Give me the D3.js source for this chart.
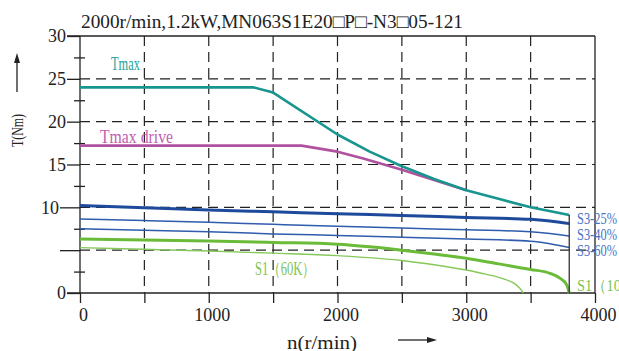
<!DOCTYPE html>
<html>
<head>
<meta charset="utf-8">
<script src="https://cdn.jsdelivr.net/npm/d3@7"></script>
<style>
  body { margin: 0; background: #fff; }
  svg { display: block; }
</style>
</head>
<body>
<div id="chart"></div>
<script>
// chart values
var titleText = "2000r/min,1.2kW,MN063S1E20□P□-N3□05-121";
var speedTicks = [0, 500, 1000, 1500, 2000, 2500, 3000, 3500, 4000];
var speedLabels = [0, 1000, 2000, 3000, 4000];
var torqueTicks = [0, 2.5, 5, 7.5, 10, 12.5, 15, 17.5, 20, 22.5, 25, 27.5, 30];
var torqueLabels = [0, 10, 15, 20, 25, 30];
var torqueGrid = [5, 10, 15, 20, 25];

var tmaxSpeed  = [0, 1350, 1500, 2000, 2250, 2500, 2750, 3000, 3250, 3500, 3800];
var tmaxTorque = [24, 24, 23.4, 18.5, 16.5, 14.8, 13.3, 12.0, 11.0, 10.0, 9.1];

var driveSpeed  = [0, 1720, 2000, 2200, 2500, 2750, 3000];
var driveTorque = [17.2, 17.2, 16.5, 15.7, 14.4, 13.2, 12.0];

var s325Speed  = [0, 500, 1000, 1500, 2000, 2500, 3000, 3500, 3650, 3800];
var s325Torque = [10.2, 9.96, 9.7, 9.48, 9.25, 9.05, 8.82, 8.6, 8.4, 8.1];

var s340Speed  = [0, 500, 1000, 1500, 2000, 2500, 3000, 3500, 3650, 3800];
var s340Torque = [8.65, 8.45, 8.25, 8.02, 7.8, 7.58, 7.37, 7.15, 6.95, 6.65];

var s360Speed  = [0, 500, 1000, 1500, 2000, 2500, 3000, 3500, 3650, 3800];
var s360Torque = [7.5, 7.33, 7.15, 6.9, 6.72, 6.52, 6.3, 6.05, 5.75, 5.3];

var s1hSpeed  = [0, 500, 1000, 1500, 2000, 2250, 2500, 2750, 3000, 3250, 3500, 3650, 3730, 3780, 3800];
var s1hTorque = [6.3, 6.2, 6.07, 5.9, 5.7, 5.4, 5.0, 4.55, 4.05, 3.4, 2.75, 2.3, 1.7, 0.95, 0];

var s1sSpeed  = [0, 500, 1000, 1500, 2000, 2500, 2750, 3000, 3150, 3300, 3370, 3410, 3435, 3442];
var s1sTorque = [5.3, 5.1, 4.9, 4.65, 4.36, 3.8, 3.3, 2.68, 2.2, 1.6, 1.15, 0.65, 0.2, 0];

var rightLabels = ["S3-25%", "S3-40%", "S3-60%", "S1（100K）"];

// styles per curve
var series = [
    {speed: s1sSpeed,  torque: s1sTorque,  color: "#86c85a", width: 1.4, curve: d3.curveMonotoneX},
    {speed: s1hSpeed,  torque: s1hTorque,  color: "#6abb38", width: 3,   curve: d3.curveMonotoneX},
    {speed: s360Speed, torque: s360Torque, color: "#2f5cad", width: 1.5, curve: d3.curveMonotoneX},
    {speed: s340Speed, torque: s340Torque, color: "#2f5cad", width: 1.5, curve: d3.curveMonotoneX},
    {speed: s325Speed, torque: s325Torque, color: "#1e4a9b", width: 3,   curve: d3.curveMonotoneX},
    {speed: driveSpeed, torque: driveTorque, color: "#b0519f", width: 2.6, curve: d3.curveLinear},
    {speed: tmaxSpeed,  torque: tmaxTorque,  color: "#18958f", width: 2.6, curve: d3.curveLinear}
];

var W = 619, H = 351;
var ink = "#222";

var svg = d3.select("#chart").append("svg")
    .attr("width", W)
    .attr("height", H)
    .style("font-family", "'Liberation Serif', 'DejaVu Serif', serif");

var x = d3.scaleLinear().domain([0, 4000]).range([80, 595]);
var y = d3.scaleLinear().domain([0, 30]).range([293, 36]);

// dashed grid
svg.append("g").selectAll("line")
    .data(speedTicks.filter(function(d) { return d > 0 && d < 4000; }))
    .join("line")
        .attr("x1", x).attr("x2", x)
        .attr("y1", y(30)).attr("y2", y(0))
        .attr("stroke", ink).attr("stroke-width", 1.2)
        .attr("stroke-dasharray", "10,6");

svg.append("g").selectAll("line")
    .data(torqueGrid)
    .join("line")
        .attr("x1", x(0)).attr("x2", x(4000))
        .attr("y1", y).attr("y2", y)
        .attr("stroke", ink).attr("stroke-width", 1.2)
        .attr("stroke-dasharray", "10,6");

// frame
var frame = svg.append("g").attr("stroke", ink).attr("stroke-width", 1.3);
frame.append("line").attr("x1", 67).attr("x2", x(4000)).attr("y1", y(30)).attr("y2", y(30));
frame.append("line").attr("x1", 67).attr("x2", x(4000)).attr("y1", y(0)).attr("y2", y(0));
frame.append("line").attr("x1", x(0)).attr("x2", x(0)).attr("y1", y(30)).attr("y2", y(0));
frame.append("line").attr("x1", x(4000)).attr("x2", x(4000)).attr("y1", y(30)).attr("y2", y(0));

// x axis
var xAxis = d3.axisBottom(x)
    .tickValues(speedTicks)
    .tickSize(10)
    .tickSizeOuter(0)
    .tickFormat(function(d) { return speedLabels.indexOf(d) !== -1 ? d : ""; });

var gx = svg.append("g")
    .attr("transform", "translate(0," + y(0) + ")")
    .call(xAxis);
gx.attr("font-family", null).attr("font-size", 18).attr("color", ink);
gx.select(".domain").remove();
gx.selectAll(".tick line").attr("stroke-width", 1.3);
gx.selectAll(".tick text").attr("y", 15).attr("dx", 3).attr("fill", ink);

// y axis
function tickLen(d) {
    if (d === 5 || d === 10) return 20;
    return d % 5 === 0 ? 13 : 6;
}

var yAxis = d3.axisLeft(y)
    .tickValues(torqueTicks)
    .tickSizeOuter(0)
    .tickFormat(function(d) { return torqueLabels.indexOf(d) !== -1 ? d : ""; });

var gy = svg.append("g")
    .attr("transform", "translate(" + x(0) + ",0)")
    .call(yAxis);
gy.attr("font-family", null).attr("font-size", 18).attr("color", ink);
gy.select(".domain").remove();
gy.selectAll(".tick line")
    .attr("stroke-width", 1.3)
    .attr("x1", function(d) { return d % 5 === 0 ? 0 : 5; })
    .attr("x2", function(d) { return -tickLen(d); });
gy.selectAll(".tick text")
    .attr("x", function(d) { return -tickLen(d) - 1; })
    .attr("fill", ink);

// curves
var line = d3.line()
    .x(function(d) { return x(d[0]); })
    .y(function(d) { return y(d[1]); });

svg.append("g").selectAll("path")
    .data(series)
    .join("path")
        .attr("fill", "none")
        .attr("stroke", function(s) { return s.color; })
        .attr("stroke-width", function(s) { return s.width; })
        .attr("stroke-linejoin", "round")
        .attr("d", function(s) {
            return line.curve(s.curve)(s.speed.map(function(v, i) { return [v, s.torque[i]]; }));
        });

// end line at max speed
var nEnd = tmaxSpeed[tmaxSpeed.length - 1];
svg.append("line")
    .attr("x1", x(nEnd)).attr("x2", x(nEnd))
    .attr("y1", y(tmaxTorque[tmaxTorque.length - 1])).attr("y2", y(0))
    .attr("stroke", "#333").attr("stroke-width", 1.3);

// curve labels
function label(txt, px, py, color, len, size) {
    var t = svg.append("text")
        .attr("x", px).attr("y", py)
        .attr("fill", color)
        .attr("font-size", size || 18)
        .text(txt);
    if (len) t.attr("textLength", len).attr("lengthAdjust", "spacingAndGlyphs");
    return t;
}

label("Tmax", 111, 70, "#23a39d", 29);
label("Tmax drive", 100, 143, "#c25db3", 73);
label("S1（60K）", 255, 275, "#80c450", 60);

var rightY = [224, 240, 256, 291];
var rightLen = [40, 40, 40, 76];
var rightColor = ["#4a72c2", "#4a72c2", "#4a72c2", "#80c450"];
rightLabels.forEach(function(txt, i) {
    label(txt, 577, rightY[i], rightColor[i], rightLen[i], 16);
});

// title
label(titleText, 81, 28, ink, 382, 19);

// axis titles with arrows
label("n(r/min)", 287, 349, ink, 70, 19);
svg.append("line").attr("x1", 398).attr("x2", 430).attr("y1", 340).attr("y2", 340)
    .attr("stroke", ink).attr("stroke-width", 1.3);
svg.append("path").attr("d", "M437,340 L427,337 L427,343 Z").attr("fill", ink);

svg.append("text")
    .attr("transform", "translate(23,147) rotate(-90)")
    .attr("font-size", 17)
    .attr("fill", ink)
    .attr("textLength", 33)
    .attr("lengthAdjust", "spacingAndGlyphs")
    .text("T(Nm)");
svg.append("line").attr("x1", 17).attr("x2", 17).attr("y1", 92).attr("y2", 60)
    .attr("stroke", ink).attr("stroke-width", 1.3);
svg.append("path").attr("d", "M17,53 L14,63 L20,63 Z").attr("fill", ink);
</script>
</body>
</html>
